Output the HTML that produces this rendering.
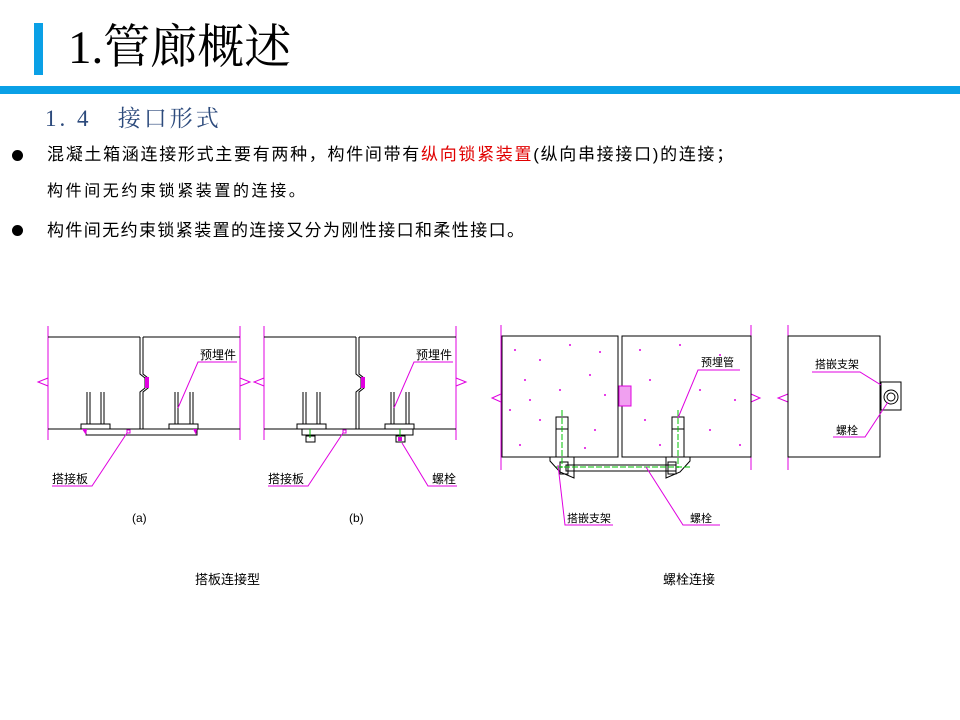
<!DOCTYPE html>
<html><head><meta charset="utf-8"><style>
html,body{margin:0;padding:0;background:#fff;}
body{width:960px;height:720px;position:relative;overflow:hidden;font-family:"Liberation Sans","Noto Sans CJK SC",sans-serif;}
.t{position:absolute;white-space:nowrap;color:#000;}
</style></head><body>
<div style="position:absolute;left:34px;top:23px;width:9px;height:52px;background:#0aa0e6"></div>
<div class="t" style="left:68px;top:22px;font-size:47px;line-height:52px;font-family:'Liberation Serif','Noto Serif CJK SC',serif;">1.管廊概述</div>
<div style="position:absolute;left:0;top:86px;width:960px;height:8px;background:#0aa0e6"></div>
<div class="t" style="left:45px;top:104px;font-size:23px;line-height:30px;color:#2c4a7c;font-family:'Liberation Serif','Noto Serif CJK SC',serif;letter-spacing:3px">1. 4&nbsp;&nbsp;&nbsp;接口形式</div>
<div style="position:absolute;left:12px;top:150px;width:11px;height:11px;border-radius:50%;background:#000"></div>
<div class="t" style="left:47px;top:143px;font-size:17px;line-height:24px;letter-spacing:1.7px">混凝土箱涵连接形式主要有两种，构件间带有<span style="color:#e00000">纵向锁紧装置</span>(纵向串接接口)的连接；</div>
<div class="t" style="left:47px;top:180px;font-size:16px;line-height:24px;letter-spacing:2.6px">构件间无约束锁紧装置的连接。</div>
<div style="position:absolute;left:12px;top:225px;width:11px;height:11px;border-radius:50%;background:#000"></div>
<div class="t" style="left:47px;top:219px;font-size:17px;line-height:24px;letter-spacing:1.4px">构件间无约束锁紧装置的连接又分为刚性接口和柔性接口。</div>

<svg width="960" height="720" style="position:absolute;left:0;top:0" font-family="Liberation Sans,Noto Sans CJK SC,sans-serif">
<defs>
<g id="pa">
 <line x1="48" y1="326" x2="48" y2="440" stroke="#e000e0"/>
 <polyline points="48,378 38,382 48,386" fill="none" stroke="#e000e0"/>
 <line x1="240" y1="326" x2="240" y2="440" stroke="#e000e0"/>
 <polyline points="240,378 250,382 240,386" fill="none" stroke="#e000e0"/>
 <g stroke="#000" fill="none">
  <line x1="48" y1="337" x2="140" y2="337"/><line x1="143" y1="337" x2="240" y2="337"/>
  <line x1="48" y1="429" x2="240" y2="429"/>
  <polyline points="140,337 140,374 145,378 145,388 140,392 140,429"/>
  <polyline points="143,337 143,374 148,378 148,388 143,392 143,429"/>
  <line x1="87" y1="392" x2="87" y2="424"/><line x1="90" y1="392" x2="90" y2="424"/>
  <line x1="101" y1="392" x2="101" y2="424"/><line x1="104" y1="392" x2="104" y2="424"/>
  <line x1="175" y1="392" x2="175" y2="424"/><line x1="178" y1="392" x2="178" y2="424"/>
  <line x1="190" y1="392" x2="190" y2="424"/><line x1="193" y1="392" x2="193" y2="424"/>
  <rect x="81" y="424" width="29" height="5"/><rect x="169" y="424" width="29" height="5"/>
  <rect x="86" y="429" width="111" height="6"/>
 </g>
 <rect x="145" y="377" width="4" height="11" fill="#e000e0"/>
 <rect x="127" y="430" width="3" height="3" fill="none" stroke="#e000e0"/>
 <g stroke="#e000e0" fill="none">
  <polyline points="178,408 198,362 237,362"/>
  <polyline points="127,433 92,486 52,486"/>
 </g>
 <text x="200" y="359" font-size="12">预埋件</text>
 <text x="52" y="483" font-size="12">搭接板</text>
</g>
</defs>
<use href="#pa"/>
<path d="M82,429 L87,429 L86,435 Z M197,429 L193,429 L196,435 Z" fill="#e000e0"/>
<text x="132" y="522" font-size="12">(a)</text>
<use href="#pa" transform="translate(216,0)"/>
<g stroke="#000" fill="none">
 <rect x="306" y="436" width="9" height="6"/><rect x="396" y="436" width="9" height="6"/>
</g>
<line x1="310" y1="429" x2="310" y2="438" stroke="#00b000"/><line x1="400" y1="429" x2="400" y2="438" stroke="#00b000"/>
<rect x="398" y="437" width="4" height="4" fill="#e000e0"/>
<polyline points="402,443 428,486 457,486" fill="none" stroke="#e000e0"/>
<text x="432" y="483" font-size="12">螺栓</text>
<text x="349" y="522" font-size="12">(b)</text>

<g stroke="#e000e0" fill="none">
 <line x1="501" y1="325" x2="501" y2="470"/><line x1="751" y1="325" x2="751" y2="470"/>
 <polyline points="501,394 492,398 501,402"/><polyline points="751,394 760,398 751,402"/>
 <line x1="788" y1="325" x2="788" y2="470"/><polyline points="788,394 778,398 788,402"/>
</g>
<g stroke="#000" fill="none">
 <rect x="502" y="336" width="116" height="121"/><rect x="622" y="336" width="129" height="121"/>
 <rect x="556" y="417" width="12" height="40"/><line x1="556" y1="429" x2="568" y2="429"/>
 <rect x="672" y="417" width="12" height="40"/><line x1="672" y1="429" x2="684" y2="429"/>
 <polygon points="550,457 574,457 574,478 560,472 550,461"/>
 <polygon points="666,457 690,457 690,461 680,472 666,478"/>
 <rect x="566" y="465" width="110" height="6"/>
 <rect x="560" y="462" width="8" height="12"/><rect x="668" y="462" width="8" height="12"/>
 <rect x="788" y="336" width="92" height="121"/>
 <rect x="881" y="382" width="20" height="28"/>
 <circle cx="891" cy="397" r="7"/><circle cx="891" cy="397" r="4"/>
</g>
<g stroke="#00c000" stroke-dasharray="6,2">
 <line x1="562" y1="410" x2="562" y2="468"/><line x1="678" y1="410" x2="678" y2="468"/>
 <line x1="556" y1="467" x2="690" y2="467"/>
</g>
<rect x="619" y="386" width="12" height="20" fill="#f0a0f0" stroke="#e000e0"/>
<g fill="#e000e0">
 <circle cx="515" cy="350" r="1"/><circle cx="540" cy="360" r="1"/><circle cx="570" cy="345" r="1"/><circle cx="600" cy="352" r="1"/>
 <circle cx="525" cy="380" r="1"/><circle cx="560" cy="390" r="1"/><circle cx="590" cy="375" r="1"/><circle cx="510" cy="410" r="1"/>
 <circle cx="540" cy="420" r="1"/><circle cx="595" cy="430" r="1"/><circle cx="520" cy="445" r="1"/><circle cx="585" cy="448" r="1"/>
 <circle cx="640" cy="350" r="1"/><circle cx="680" cy="345" r="1"/><circle cx="720" cy="355" r="1"/><circle cx="650" cy="380" r="1"/>
 <circle cx="700" cy="390" r="1"/><circle cx="735" cy="400" r="1"/><circle cx="645" cy="420" r="1"/><circle cx="710" cy="430" r="1"/>
 <circle cx="660" cy="445" r="1"/><circle cx="740" cy="445" r="1"/><circle cx="605" cy="395" r="1"/><circle cx="530" cy="400" r="1"/>
</g>
<g stroke="#e000e0" fill="none">
 <polyline points="678,418 698,370 740,370"/>
 <polyline points="558,465 565,525 613,525"/>
 <polyline points="646,467 683,525 720,525"/>
 <polyline points="881,385 860,372 812,372"/>
 <polyline points="888,402 865,437 833,437"/>
</g>
<g font-size="11">
 <text x="701" y="366">预埋管</text>
 <text x="567" y="522">搭嵌支架</text>
 <text x="690" y="522">螺栓</text>
 <text x="815" y="368">搭嵌支架</text>
 <text x="836" y="434">螺栓</text>
</g>
<text x="195" y="584" font-size="13">搭板连接型</text>
<text x="663" y="584" font-size="13">螺栓连接</text>
</svg>
</body></html>
